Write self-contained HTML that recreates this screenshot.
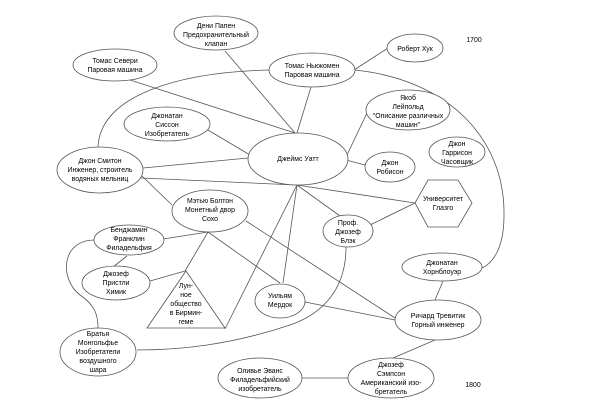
<!DOCTYPE html>
<html><head><meta charset="utf-8"><style>
html,body{margin:0;padding:0;background:#fff;}
svg{display:block;}
text{font-family:"Liberation Sans","DejaVu Sans",sans-serif;font-size:6.9px;fill:#000;text-anchor:middle;}
</style></head><body>
<svg width="600" height="413" viewBox="0 0 600 413" xmlns="http://www.w3.org/2000/svg">
<g stroke="#555" stroke-width="0.8" fill="none">
<line x1="225" y1="51" x2="295" y2="133"/>
<line x1="130" y1="80" x2="295" y2="133"/>
<line x1="311" y1="87" x2="297" y2="133"/>
<line x1="354" y1="70" x2="388" y2="48"/>
<path d="M269,70 C180,72 100,95 98,147"/>
<path d="M355,70 C450,80 505,140 504,215 C504,245 495,262 482,268"/>
<line x1="208" y1="130" x2="250" y2="155"/>
<line x1="143" y1="168" x2="248" y2="158"/>
<line x1="141" y1="178" x2="296" y2="185"/>
<line x1="142" y1="176" x2="172" y2="205"/>
<line x1="367" y1="113" x2="346" y2="157"/>
<line x1="346" y1="160" x2="365" y2="165"/>
<line x1="297" y1="185" x2="415" y2="203"/>
<line x1="297" y1="185" x2="340" y2="216"/>
<line x1="297" y1="185" x2="283" y2="283"/>
<line x1="297" y1="185" x2="225" y2="329"/>
<line x1="370" y1="225" x2="415" y2="203"/>
<line x1="246" y1="221" x2="395" y2="318"/>
<line x1="305" y1="302" x2="395" y2="320"/>
<path d="M346,247 C346,290 322,314 290,325 C230,345 180,350 137,350"/>
<line x1="208" y1="232" x2="163" y2="239"/>
<line x1="208" y1="232" x2="185" y2="271"/>
<line x1="208" y1="232" x2="280" y2="283"/>
<line x1="127" y1="256" x2="113" y2="267"/>
<line x1="150" y1="281" x2="185" y2="271"/>
<path d="M95,240 C60,240 60,280 80,295 C95,305 98,315 98,328"/>
<line x1="443" y1="281" x2="435" y2="300"/>
<line x1="435" y1="340" x2="393" y2="358"/>
<line x1="302" y1="378" x2="348" y2="378"/>
</g>
<g stroke="#555" stroke-width="0.8" fill="#fff">
<ellipse cx="216" cy="33" rx="42" ry="17"/>
<ellipse cx="115" cy="65" rx="42" ry="16"/>
<ellipse cx="312" cy="70" rx="43" ry="17"/>
<ellipse cx="415" cy="48" rx="28" ry="14"/>
<ellipse cx="167" cy="124" rx="43" ry="17"/>
<ellipse cx="408" cy="110" rx="42" ry="20"/>
<ellipse cx="298" cy="159" rx="50" ry="26"/>
<ellipse cx="390" cy="167" rx="25" ry="15"/>
<ellipse cx="457" cy="152" rx="28" ry="15"/>
<polygon points="428,180 458,180 472,203 458,227 428,227 415,203"/>
<ellipse cx="100" cy="170" rx="43" ry="23"/>
<ellipse cx="210" cy="211" rx="38" ry="21"/>
<ellipse cx="348" cy="231" rx="25" ry="16"/>
<ellipse cx="129" cy="240" rx="35" ry="15"/>
<ellipse cx="116" cy="283" rx="34" ry="17"/>
<polygon points="186,271 225,328 147,328"/>
<ellipse cx="280" cy="301" rx="25" ry="17"/>
<ellipse cx="98" cy="352" rx="38" ry="24"/>
<ellipse cx="260" cy="378" rx="42" ry="20"/>
<ellipse cx="442" cy="267" rx="40" ry="14"/>
<ellipse cx="438" cy="320" rx="43" ry="20"/>
<ellipse cx="391" cy="378" rx="43" ry="20"/>
</g>
<text x="216" y="28">Дени Папен</text><text x="216" y="37">Предохранительный</text><text x="216" y="46">клапан</text>
<text x="115" y="63">Томас Севери</text><text x="115" y="72">Паровая машина</text>
<text x="312" y="68">Томас Ньюкомен</text><text x="312" y="77">Паровая машина</text>
<text x="415" y="51">Роберт Хук</text>
<text x="474" y="42">1700</text>
<text x="167" y="118">Джонатан</text><text x="167" y="127">Сиссон</text><text x="167" y="136">Изобретатель</text>
<text x="408" y="100">Якоб</text><text x="408" y="109">Лейпольд</text><text x="408" y="118">"Описание различных</text><text x="408" y="127">машин"</text>
<text x="298" y="161">Джеймс Уатт</text>
<text x="390" y="165">Джон</text><text x="390" y="174">Робисон</text>
<text x="457" y="146">Джон</text><text x="457" y="155">Гаррисон</text><text x="457" y="164">Часовщик</text>
<text x="443" y="201">Университет</text><text x="443" y="210">Глазго</text>
<text x="100" y="163">Джон Смитон</text><text x="100" y="172">Инженер, строитель</text><text x="100" y="181">водяных мельниц</text>
<text x="210" y="203">Мэтью Болтон</text><text x="210" y="212">Монетный двор</text><text x="210" y="221">Сохо</text>
<text x="348" y="225">Проф.</text><text x="348" y="234">Джозеф</text><text x="348" y="243">Блэк</text>
<text x="129" y="232">Бенджамин</text><text x="129" y="241">Франклин</text><text x="129" y="250">Филадельфия</text>
<text x="116" y="276">Джозеф</text><text x="116" y="285">Пристли</text><text x="116" y="294">Химик</text>
<text x="186" y="288">Лун-</text><text x="186" y="297">ное</text><text x="186" y="306">общество</text><text x="186" y="315">в Бирмин-</text><text x="186" y="324">геме</text>
<text x="280" y="298">Уильям</text><text x="280" y="307">Мердок</text>
<text x="98" y="336">Братья</text><text x="98" y="345">Монгольфье</text><text x="98" y="354">Изобретатели</text><text x="98" y="363">воздушного</text><text x="98" y="372">шара</text>
<text x="260" y="373">Оливье Эванс</text><text x="260" y="382">Филадельфийский</text><text x="260" y="391">изобретатель</text>
<text x="442" y="265">Джонатан</text><text x="442" y="274">Хорнблоуэр</text>
<text x="438" y="318">Ричард Тревитик</text><text x="438" y="327">Горный инженер</text>
<text x="391" y="367">Джозеф</text><text x="391" y="376">Сэмпсон</text><text x="391" y="385">Американский изо-</text><text x="391" y="394">бретатель</text>
<text x="473" y="387">1800</text>
</svg>
</body></html>
